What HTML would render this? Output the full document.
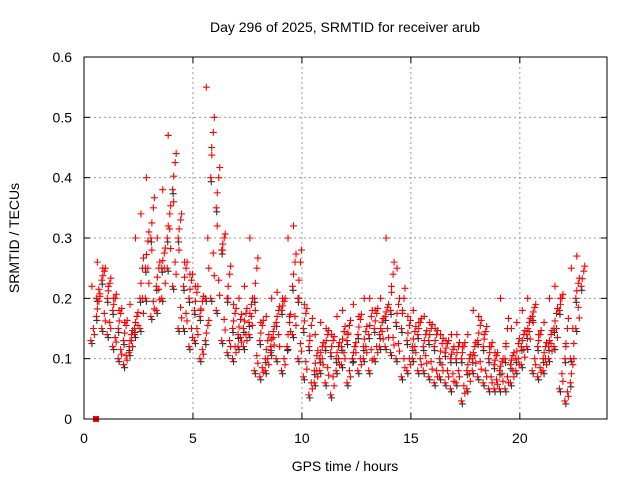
<!DOCTYPE html>
<html><head><meta charset="utf-8"><style>
body{margin:0;background:#fff}
svg{display:block;font-family:"Liberation Sans",sans-serif}
</style></head><body>
<svg id="chart" width="640" height="480">
<text x="345" y="32" font-size="14" text-anchor="middle">Day 296 of 2025, SRMTID for receiver arub</text>
<text x="345" y="471" font-size="14" text-anchor="middle">GPS time / hours</text>
<text transform="translate(19,238) rotate(-90)" font-size="14" text-anchor="middle">SRMTID / TECUs</text>
<g id="grid"></g><g id="marks"></g><g id="axes"></g>
</svg>
<script>
const hours=[0.5,0.75,1,1.25,1.5,1.75,2,2.25,2.5,2.75,3,3.25,3.5,3.75,4,4.25,4.5,4.75,5,5.25,5.5,5.75,6,6.25,6.5,6.75,7,7.25,7.5,7.75,8,8.25,8.5,8.75,9,9.25,9.5,9.75,10,10.25,10.5,10.75,11,11.25,11.5,11.75,12,12.25,12.5,12.75,13,13.25,13.5,13.75,14,14.25,14.5,14.75,15,15.25,15.5,15.75,16,16.25,16.5,16.75,17,17.25,17.5,17.75,18,18.25,18.5,18.75,19,19.25,19.5,19.75,20,20.25,20.5,20.75,21,21.25,21.5,21.75,22,22.25,22.5,22.75];
const midVals=[0.17,0.23,0.2,0.18,0.15,0.13,0.12,0.15,0.2,0.25,0.3,0.22,0.25,0.3,0.38,0.3,0.22,0.2,0.18,0.17,0.13,0.4,0.35,0.28,0.2,0.15,0.14,0.15,0.16,0.2,0.13,0.1,0.12,0.16,0.18,0.12,0.22,0.2,0.15,0.12,0.08,0.1,0.12,0.11,0.1,0.12,0.13,0.1,0.14,0.12,0.14,0.15,0.14,0.17,0.18,0.16,0.15,0.13,0.12,0.14,0.12,0.13,0.12,0.1,0.11,0.1,0.1,0.1,0.08,0.1,0.13,0.12,0.1,0.09,0.08,0.1,0.09,0.1,0.12,0.14,0.17,0.12,0.1,0.12,0.15,0.18,0.1,0.06,0.2,0.22];
const lowVals=[0.13,0.2,0.15,0.14,0.12,0.1,0.09,0.11,0.14,0.15,0.2,0.17,0.18,0.2,0.25,0.22,0.15,0.15,0.12,0.13,0.1,0.2,0.2,0.18,0.13,0.11,0.1,0.12,0.12,0.14,0.08,0.07,0.08,0.11,0.1,0.08,0.12,0.14,0.1,0.07,0.04,0.06,0.08,0.06,0.04,0.08,0.09,0.06,0.1,0.08,0.1,0.08,0.1,0.12,0.12,0.11,0.1,0.07,0.08,0.1,0.08,0.08,0.07,0.06,0.07,0.06,0.05,0.06,0.03,0.05,0.08,0.07,0.06,0.05,0.05,0.05,0.05,0.06,0.08,0.09,0.12,0.08,0.07,0.08,0.1,0.12,0.05,0.03,0.1,0.15];
const highVals=[0.22,0.26,0.25,0.22,0.2,0.18,0.16,0.19,0.3,0.34,0.4,0.28,0.3,0.38,0.47,0.36,0.28,0.26,0.24,0.22,0.18,0.55,0.45,0.32,0.28,0.2,0.19,0.2,0.22,0.3,0.18,0.16,0.17,0.2,0.21,0.2,0.3,0.32,0.2,0.19,0.13,0.14,0.16,0.15,0.14,0.17,0.18,0.14,0.19,0.17,0.2,0.2,0.18,0.2,0.3,0.22,0.25,0.18,0.17,0.18,0.16,0.17,0.16,0.15,0.14,0.13,0.14,0.14,0.12,0.14,0.18,0.17,0.14,0.12,0.11,0.2,0.12,0.15,0.16,0.18,0.2,0.16,0.14,0.16,0.2,0.22,0.2,0.12,0.25,0.27];
const xTicks=[0,5,10,15,20];
const yTicks=[0,0.1,0.2,0.3,0.4,0.5,0.6];
const yLabels=["0","0.1","0.2","0.3","0.4","0.5","0.6"];
const L=84,R=607,T=57,B=419;
const xs=v=>L+v/24*(R-L), ys=v=>B-v/0.6*(B-T);
const NS="http://www.w3.org/2000/svg";
function mk(tag,attrs,parent){const e=document.createElementNS(NS,tag);for(const k in attrs)e.setAttribute(k,attrs[k]);parent.appendChild(e);return e;}
const grid=document.getElementById('grid'),marks=document.getElementById('marks'),axes=document.getElementById('axes');
xTicks.forEach(t=>{const x=xs(t);
 if(t>0){const g=mk('line',{x1:x,x2:x,y1:T,y2:B,stroke:'#999','stroke-dasharray':'2,3'},grid);
 
 }
 const tx=mk('text',{x:x,y:443,'font-size':14,'text-anchor':'middle'},axes);tx.textContent=t;
 
 
 mk('line',{x1:x,x2:x,y1:B,y2:B-6,stroke:'#000'},axes);mk('line',{x1:x,x2:x,y1:T,y2:T+6,stroke:'#000'},axes);});
yTicks.forEach((t,i)=>{const y=ys(t);
 if(t>0&&t<0.6){const g=mk('line',{x1:L,x2:R,y1:y,y2:y,stroke:'#999','stroke-dasharray':'2,3'},grid);
 
 }
 const tx=mk('text',{x:72,y:y+5,'font-size':14,'text-anchor':'end'},axes);tx.textContent=yLabels[i];
 
 
 mk('line',{x1:L,x2:L+6,y1:y,y2:y,stroke:'#000'},axes);mk('line',{x1:R,x2:R-6,y1:y,y2:y,stroke:'#000'},axes);});
const fr=mk('rect',{x:L,y:T,width:R-L,height:B-T,fill:'none',stroke:'#000'},axes);


function plus(x,y,c,name){const p=mk('path',{d:`M${x-3.5},${y}h7M${x},${y-3.5}v7`,stroke:c,'stroke-width':1.1},marks);
 
 }
hours.forEach((h,i)=>{plus(xs(h)+2,ys(midVals[i])+4,'#333','black-point');plus(xs(h)-3,ys(lowVals[i])+3,'#333','black-point');});
const offs=[-4,-1.5,1.5,4];
hours.forEach((h,i)=>{
 const lo=lowVals[i],md=midVals[i],hi=highVals[i];
 const ys4=[lo,(lo+md)/2,md,(md+hi)/2,hi,(lo*3+md)/4,(md*3+hi)/4,(md+hi*2)/3];
 ys4.forEach((v,k)=>plus(xs(h)+offs[k%4]+(k>3?1:0),ys(v),'#f00','red-point'));
});
const sq=mk('rect',{x:xs(0.55)-3,y:B-3,width:6,height:6,fill:'#f00'},marks);


</script>
</body></html>
